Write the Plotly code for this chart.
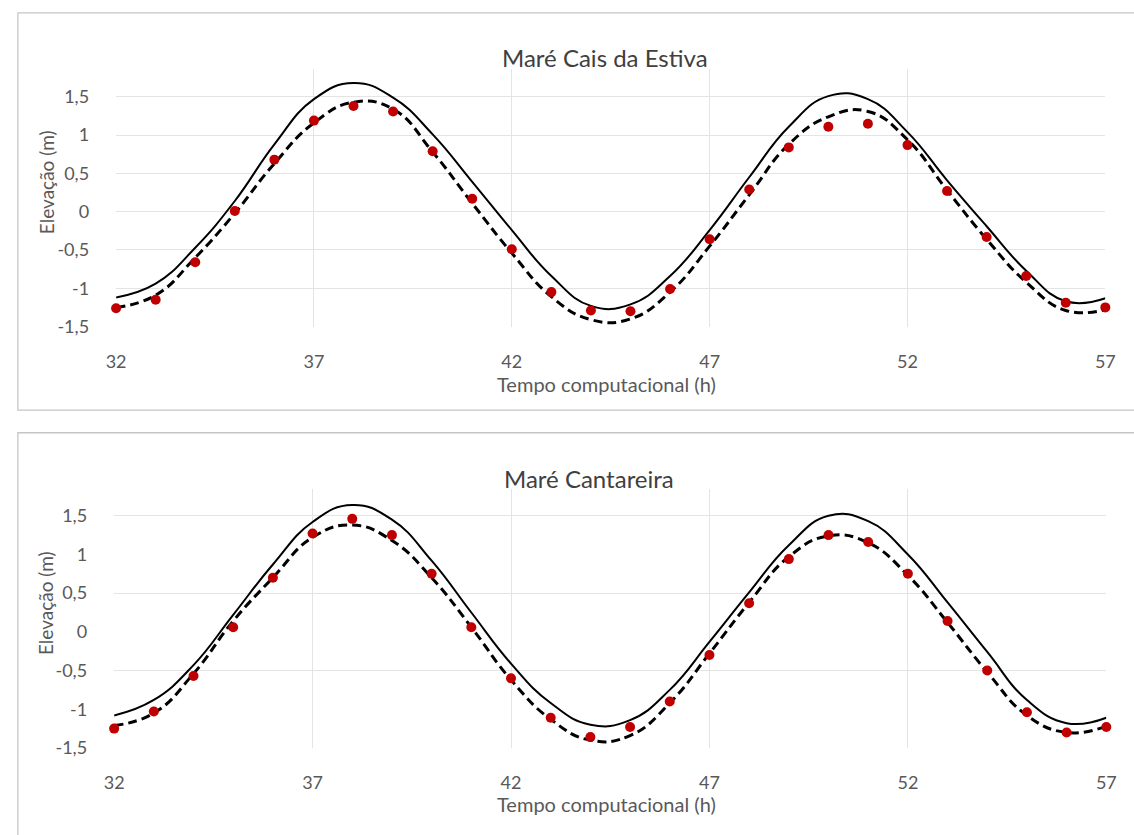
import plotly.graph_objects as go

# ---------------- data ----------------
hours = [32, 33, 34, 35, 36, 37, 38, 39, 40, 41, 42, 43, 44,
         45, 46, 47, 48, 49, 50, 51, 52, 53, 54, 55, 56, 57]

# Maré Cais da Estiva
cais_solid = [-1.12, -0.94, -0.47, 0.14, 0.88, 1.47, 1.68, 1.49, 1.01, 0.39, -0.24, -0.84, -1.23,
              -1.21, -0.84, -0.24, 0.45, 1.11, 1.51, 1.47, 1.04, 0.41, -0.19, -0.77, -1.17, -1.13]
cais_dashed = [-1.25, -1.09, -0.60, -0.02, 0.63, 1.16, 1.43, 1.34, 0.78, 0.11, -0.54, -1.11, -1.41,
               -1.40, -1.05, -0.45, 0.22, 0.88, 1.24, 1.31, 0.94, 0.28, -0.36, -0.92, -1.29, -1.28]
cais_obs = [-1.26, -1.15, -0.66, 0.01, 0.68, 1.19, 1.38, 1.31, 0.79, 0.17, -0.49, -1.05, -1.29,
            -1.30, -1.01, -0.36, 0.29, 0.84, 1.11, 1.15, 0.87, 0.27, -0.33, -0.84, -1.19, -1.25]

# Maré Cantareira
cant_solid = [-1.08, -0.88, -0.43, 0.22, 0.87, 1.42, 1.64, 1.45, 0.92, 0.25, -0.41, -0.92, -1.20,
              -1.14, -0.75, -0.13, 0.51, 1.12, 1.50, 1.43, 1.00, 0.38, -0.26, -0.88, -1.18, -1.11]
cant_dashed = [-1.21, -1.05, -0.54, 0.14, 0.70, 1.22, 1.38, 1.18, 0.70, 0.06, -0.62, -1.13, -1.40,
               -1.34, -0.92, -0.28, 0.38, 0.97, 1.24, 1.15, 0.73, 0.12, -0.52, -1.08, -1.30, -1.22]
cant_obs = [-1.25, -1.03, -0.57, 0.06, 0.70, 1.27, 1.46, 1.25, 0.75, 0.06, -0.60, -1.11, -1.36,
            -1.23, -0.90, -0.30, 0.37, 0.94, 1.25, 1.16, 0.75, 0.14, -0.50, -1.04, -1.30, -1.23]

x_ticks = [32, 37, 42, 47, 52, 57]
x_ticktext = ["32", "37", "42", "47", "52", "57"]
y_ticks = [-1.5, -1.0, -0.5, 0.0, 0.5, 1.0, 1.5]
y_ticktext = ["-1,5", "-1", "-0,5", "0", "0,5", "1", "1,5"]

titles = ["Maré Cais da Estiva", "Maré Cantareira"]
x_title = "Tempo computacional (h)"
y_title = "Elevação (m)"

# ---------------- styling ----------------
W, H = 1134, 835
FONT = "Lato"
TICK_COLOR = "#595959"
GRID = "#e4e4e4"
RED = "#c00000"


def px(x):
    return x / W


def py(y):
    return 1 - y / H


fig = go.Figure()

panels = [
    dict(solid=cais_solid, dashed=cais_dashed, obs=cais_obs, xa="x", ya="y"),
    dict(solid=cant_solid, dashed=cant_dashed, obs=cant_obs, xa="x2", ya="y2"),
]

for p in panels:
    fig.add_trace(go.Scatter(x=hours, y=p["solid"], mode="lines",
                             line=dict(color="black", width=2, shape="spline", smoothing=1.3),
                             xaxis=p["xa"], yaxis=p["ya"], showlegend=False, cliponaxis=False))
    fig.add_trace(go.Scatter(x=hours, y=p["dashed"], mode="lines",
                             line=dict(color="black", width=3, dash="9px,5px", shape="spline", smoothing=1.3),
                             xaxis=p["xa"], yaxis=p["ya"], showlegend=False, cliponaxis=False))
    fig.add_trace(go.Scatter(x=hours, y=p["obs"], mode="markers", marker=dict(color=RED, size=10),
                             xaxis=p["xa"], yaxis=p["ya"], showlegend=False, cliponaxis=False))

axis_font = dict(family=FONT, size=18, color=TICK_COLOR)

common_x = dict(range=[32, 57], tickvals=x_ticks, ticktext=x_ticktext, showgrid=True, gridcolor=GRID,
                gridwidth=1, zeroline=False, showline=False, ticks="", tickfont=axis_font,
                ticklabelstandoff=22, fixedrange=True)
common_y = dict(tickvals=y_ticks, ticktext=y_ticktext, zeroline=False, showline=False, ticks="",
                tickfont=axis_font, ticklabelstandoff=26, fixedrange=True)

fig.update_layout(
    width=W, height=H,
    margin=dict(l=0, r=0, t=0, b=0),
    paper_bgcolor="white", plot_bgcolor="white",
    xaxis=dict(domain=[px(108), px(1115)], anchor="y", **common_x),
    yaxis=dict(domain=[py(330.5), py(70)], anchor="x", range=[-1.5, 1.862],
               showgrid=True, gridcolor=GRID, **common_y),
    xaxis2=dict(domain=[px(106), px(1116)], anchor="y2", **common_x),
    yaxis2=dict(domain=[py(757), py(495)], anchor="x2", range=[-1.5, 1.845],
                showgrid=False,
                minor=dict(tickvals=[-1.5, -0.5, 0.5, 1.5], showgrid=True, gridcolor=GRID, ticks=""),
                **common_y),
)

# panel borders
fig.add_shape(type="rect", xref="paper", yref="paper", x0=px(8), x1=1.02, y0=py(415), y1=py(13),
              line=dict(color="#c6c6c6", width=1.3), fillcolor="rgba(0,0,0,0)", layer="below")
fig.add_shape(type="rect", xref="paper", yref="paper", x0=px(8), x1=1.02, y0=-0.02, y1=py(438),
              line=dict(color="#c6c6c6", width=1.3), fillcolor="rgba(0,0,0,0)", layer="below")

# titles
title_pos = [(606, 58), (589, 484)]
xt_pos = [(607, 389), (607, 814)]
yt_pos = [(37, 184), (36, 610)]
for i in range(2):
    fig.add_annotation(text=titles[i], xref="paper", yref="paper", x=px(title_pos[i][0]), y=py(title_pos[i][1]),
                       xanchor="center", yanchor="middle", showarrow=False,
                       font=dict(family=FONT, size=24, color="#404040"))
    fig.add_annotation(text=x_title, xref="paper", yref="paper", x=px(xt_pos[i][0]), y=py(xt_pos[i][1]),
                       xanchor="center", yanchor="middle", showarrow=False,
                       font=dict(family=FONT, size=20, color=TICK_COLOR))
    fig.add_annotation(text=y_title, xref="paper", yref="paper", x=px(yt_pos[i][0]), y=py(yt_pos[i][1]),
                       xanchor="center", yanchor="middle", showarrow=False, textangle=-90,
                       font=dict(family=FONT, size=19, color=TICK_COLOR))

fig.write_html("out.html")
